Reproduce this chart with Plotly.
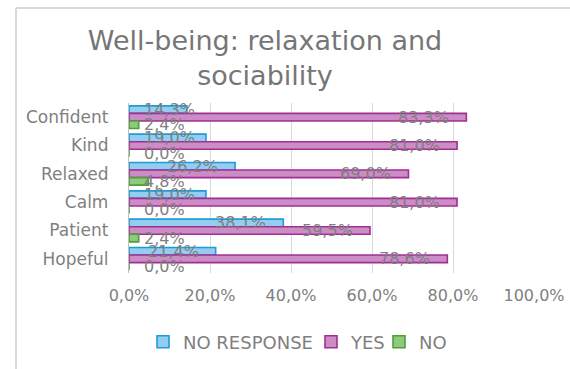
import plotly.graph_objects as go

categories = ["Confident", "Kind", "Relaxed", "Calm", "Patient", "Hopeful"]
no_response = [14.3, 19.0, 26.2, 19.0, 38.1, 21.4]
yes = [83.3, 81.0, 69.0, 81.0, 59.5, 78.6]
no = [2.4, 0.0, 4.8, 0.0, 2.4, 0.0]
x_ticks = [0, 20, 40, 60, 80, 100]
x_tick_labels = ["0,0%", "20,0%", "40,0%", "60,0%", "80,0%", "100,0%"]

series = [
    ("NO RESPONSE", no_response, "#93cdef", "#1f9bd7", 123),
    ("YES", yes, "#cc8dc6", "#a12e92", 23),
    ("NO", no, "#8ec97c", "#4f9e3a", 30),
]

FONT = "DejaVu Sans"
GREY = "#7f7f7f"
bargap = 0.2

fig = go.Figure()
for name, vals, fill, line, lw in series:
    fig.add_trace(go.Bar(
        name=name, y=categories, x=vals, orientation="h",
        marker=dict(color=fill, line=dict(color=line, width=1.6)),
        legendwidth=lw,
    ))

# data labels
w = (1 - bargap) / 3
annotations = []
for i, (name, vals, fill, line, lw) in enumerate(series):
    offset = -(1 - bargap) / 2 + w * (i + 0.5)
    for j, v in enumerate(vals):
        txt = f"{v:.1f}%".replace(".", ",")
        if v >= 20:
            annotations.append(dict(x=v, y=j + offset, xref="x", yref="y", text=txt,
                                    xanchor="right", xshift=-15, showarrow=False,
                                    font=dict(family=FONT, size=16, color=GREY)))
        else:
            annotations.append(dict(x=0, y=j + offset, xref="x", yref="y", text=txt,
                                    xanchor="left", xshift=13, showarrow=False,
                                    font=dict(family=FONT, size=16, color=GREY)))

fig.update_layout(
    width=570, height=369,
    margin=dict(l=129, r=36, t=103, b=96, autoexpand=False),
    paper_bgcolor="white", plot_bgcolor="white",
    barmode="group", bargap=bargap, bargroupgap=0,
    title=dict(text="Well-being: relaxation and<br>sociability",
               x=265 / 570, xanchor="center", xref="container",
               y=1 - 50 / 369, yanchor="top",
               font=dict(family=FONT, size=27, color="#767676")),
    xaxis=dict(range=[0, 100], tickvals=x_ticks, ticktext=x_tick_labels,
               showgrid=True, gridcolor="#d9d9d9", gridwidth=1.3,
               zeroline=False, showline=False, automargin=False,
               ticks="outside", ticklen=8, tickcolor="rgba(0,0,0,0)",
               tickfont=dict(family=FONT, size=16, color=GREY)),
    yaxis=dict(range=[5.5, -0.5], showline=True, linecolor="#bfbfbf", linewidth=1.3,
               automargin=False,
               ticks="outside", ticklen=16, tickcolor="rgba(0,0,0,0)",
               tickfont=dict(family=FONT, size=17, color=GREY)),
    legend=dict(orientation="h", x=(143 - 129) / 405, xanchor="left",
                y=(273 - 342) / 170, yanchor="middle",
                font=dict(family=FONT, size=18, color=GREY),
                itemwidth=30, traceorder="normal"),
    annotations=annotations,
    shapes=[
        dict(type="line", xref="paper", yref="paper",
             x0=(16 - 129) / 405, x1=(16 - 129) / 405,
             y0=(273 - 8) / 170, y1=(273 - 420) / 170,
             line=dict(color="#d9d9d9", width=2)),
        dict(type="line", xref="paper", yref="paper",
             x0=(16 - 129) / 405, x1=(620 - 129) / 405,
             y0=(273 - 8) / 170, y1=(273 - 8) / 170,
             line=dict(color="#d9d9d9", width=2)),
    ],
)

fig.write_html("out.html")
